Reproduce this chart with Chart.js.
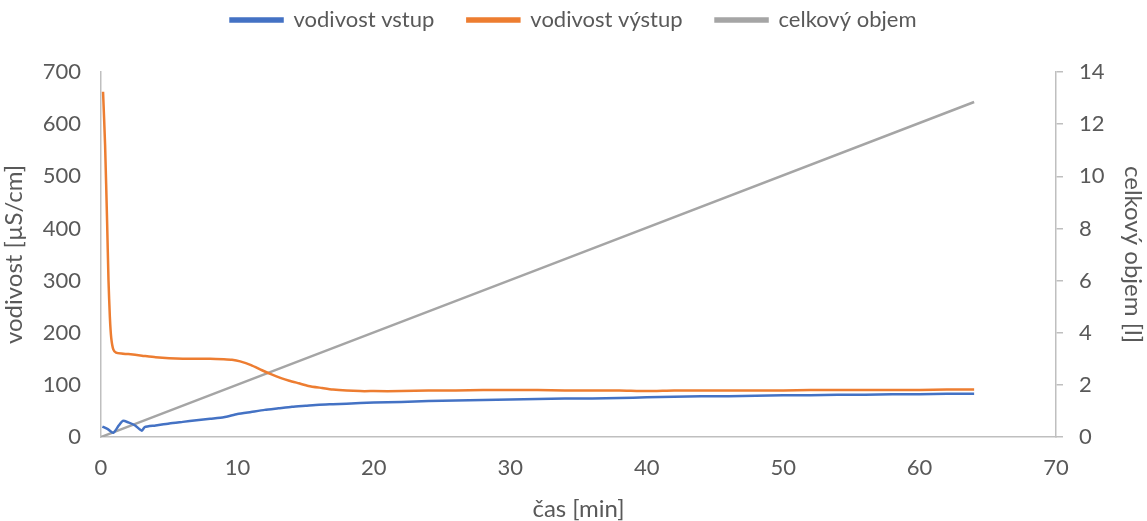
<!DOCTYPE html>
<html>
<head>
<meta charset="utf-8">
<script src="https://cdn.jsdelivr.net/npm/chart.js@4/dist/chart.umd.min.js"></script>
<style>
  html, body { margin: 0; padding: 0; background: #fff; }
  #wrap { width: 1147px; height: 521px; position: relative; }
</style>
</head>
<body>
<div id="wrap"><canvas id="chart"></canvas></div>
<script>
// time [min] and conductivity readings
const inTime = [0.1, 0.5, 0.9, 1.3, 1.6, 2, 2.5, 3, 3.2, 4, 5, 6, 7, 8, 9, 10, 11, 12, 13, 14, 15, 16, 17, 18, 20, 22, 24, 26, 28, 30, 32, 34, 36, 38, 40, 42, 44, 46, 48, 50, 52, 54, 56, 58, 60, 62, 64];
const inValues = [20, 15, 8, 22, 31, 28, 22, 12, 19, 22, 26, 29, 32, 35, 38, 44, 48, 52, 55, 58, 60, 62, 63, 64, 66, 67, 69, 70, 71, 72, 73, 74, 74, 75, 76, 77, 78, 78, 79, 80, 80, 81, 81, 82, 82, 83, 83];

const outTime = [0.15, 0.3, 0.45, 0.55, 0.65, 0.75, 0.9, 1.1, 1.5, 2, 3, 4, 5, 6, 7, 8, 9, 9.6, 10.2, 11, 11.8, 12.5, 13.2, 13.8, 14.5, 15.2, 16.2, 17, 18, 19, 20, 22, 24, 26, 28, 30, 32, 34, 36, 38, 40, 42, 44, 46, 48, 50, 52, 54, 56, 58, 60, 62, 64];
const outValues = [662, 560, 410, 300, 230, 190, 168, 162, 160, 159, 156, 153, 151, 150, 150, 150, 149, 148, 145, 138, 128, 120, 113, 108, 103, 98, 94, 91, 89, 88, 88, 88, 89, 89, 90, 90, 90, 89, 89, 89, 88, 89, 89, 89, 89, 89, 90, 90, 90, 90, 90, 91, 91];

const volTime = [0, 12.3, 32, 64];
const volValues = [0, 2.47, 6.42, 12.85];

const toPoints = (xs, ys) => xs.map((x, i) => ({ x: x, y: ys[i] }));

const textColor = '#595959';
const axisColor = '#BFBFBF';
const fontFamily = 'Lato, "Open Sans", sans-serif';

// legend sits close to the top, plot area starts lower
const legendGap = {
  id: 'legendGap',
  beforeInit(chart) {
    const fit = chart.legend.fit;
    chart.legend.fit = function () {
      fit.bind(chart.legend)();
      this.height = 96;
    };
  }
};

new Chart(document.getElementById('chart'), {
  type: 'line',
  data: {
    datasets: [
      { label: 'vodivost vstup', data: toPoints(inTime, inValues), yAxisID: 'y', borderColor: '#4472C4', backgroundColor: '#4472C4', borderWidth: 2.5, pointRadius: 0, tension: 0.2 },
      { label: 'vodivost výstup', data: toPoints(outTime, outValues), yAxisID: 'y', borderColor: '#ED7D31', backgroundColor: '#ED7D31', borderWidth: 2.5, pointRadius: 0, tension: 0.2 },
      { label: 'celkový objem', data: toPoints(volTime, volValues), yAxisID: 'y1', borderColor: '#A5A5A5', backgroundColor: '#A5A5A5', borderWidth: 2.5, pointRadius: 0, tension: 0 }
    ]
  },
  options: {
    responsive: true,
    maintainAspectRatio: false,
    animation: false,
    layout: { padding: { top: -24, left: 0, right: 0, bottom: 0 } },
    scales: {
      x: {
        type: 'linear', min: 0, max: 70,
        grid: { display: false, drawTicks: false },
        border: { display: true, color: axisColor, width: 1.5 },
        ticks: { stepSize: 10, color: textColor, padding: 18, font: { family: fontFamily, size: 22 } },
        title: { display: true, text: 'čas [min]', color: textColor, font: { family: fontFamily, size: 24 }, padding: { top: 0, bottom: -3 } },
        afterFit: s => { s.height = 84; }
      },
      y: {
        position: 'left', min: 0, max: 700,
        grid: { display: false, drawTicks: false },
        border: { display: true, color: axisColor, width: 1.5 },
        ticks: { stepSize: 100, color: textColor, padding: 20, font: { family: fontFamily, size: 22 } },
        title: { display: true, text: 'vodivost [µS/cm]', color: textColor, font: { family: fontFamily, size: 24 }, padding: 0 },
        afterFit: s => { s.width = 101; }
      },
      y1: {
        position: 'right', min: 0, max: 14,
        grid: { display: true, drawOnChartArea: false, drawTicks: true, tickLength: 7, color: axisColor, lineWidth: 1.5 },
        border: { display: true, color: axisColor, width: 1.5 },
        ticks: { stepSize: 2, color: textColor, padding: 16, font: { family: fontFamily, size: 22 } },
        title: { display: true, text: 'celkový objem [l]', color: textColor, font: { family: fontFamily, size: 24 }, padding: 0 },
        afterFit: s => { s.width = 91; }
      }
    },
    plugins: {
      legend: {
        position: 'top',
        labels: { color: textColor, boxWidth: 52, boxHeight: 3, padding: 33, font: { family: fontFamily, size: 22 } }
      },
      tooltip: { enabled: false }
    }
  },
  plugins: [legendGap]
});
</script>
</body>
</html>
